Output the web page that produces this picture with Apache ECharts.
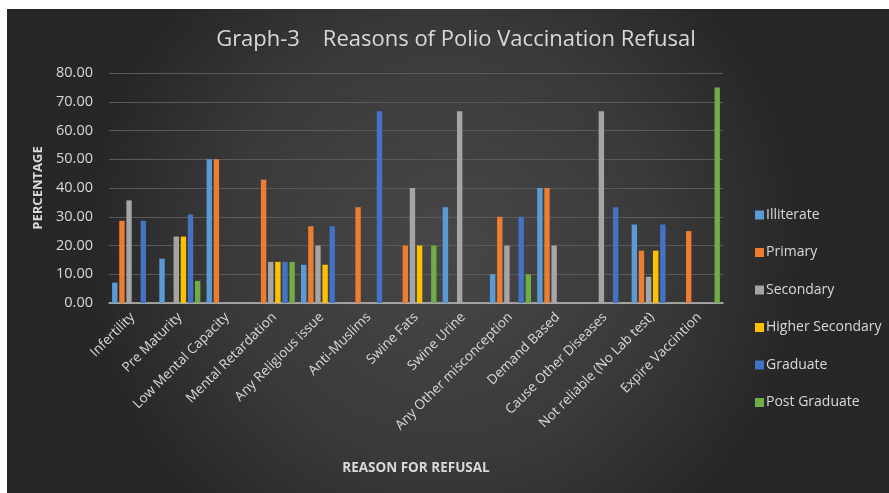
<!DOCTYPE html>
<html>
<head>
<meta charset="utf-8">
<script src="https://cdn.jsdelivr.net/npm/echarts@6/dist/echarts.min.js"></script>
<style>html,body{margin:0;padding:0;background:#2b2b2b;overflow:hidden}#c{width:889px;height:493px}</style>
</head>
<body>
<div id="c"></div>
<script>
const categories = ["Infertility","Pre Maturity","Low Mental Capacity","Mental Retardation","Any Religious issue","Anti-Muslims","Swine Fats","Swine Urine","Any Other misconception","Demand Based","Cause Other Diseases","Not reliable (No Lab test)","Expire Vaccintion"];
const illiterate      = [7.1, 15.4, 50.0, 0, 13.3, 0, 0, 33.3, 10.0, 40.0, 0, 27.3, 0];
const primary         = [28.6, 0, 50.0, 42.9, 26.7, 33.3, 20.0, 0, 30.0, 40.0, 0, 18.2, 25.0];
const secondary       = [35.7, 23.1, 0, 14.3, 20.0, 0, 40.0, 66.7, 20.0, 20.0, 66.7, 9.1, 0];
const higherSecondary = [0, 23.1, 0, 14.3, 13.3, 0, 20.0, 0, 0, 0, 0, 18.2, 0];
const graduate        = [28.6, 30.8, 0, 14.3, 26.7, 66.7, 0, 0, 30.0, 0, 33.3, 27.3, 0];
const postGraduate    = [0, 7.7, 0, 14.3, 0, 0, 20.0, 0, 10.0, 0, 0, 0, 75.0];
const yTicks = [0, 10, 20, 30, 40, 50, 60, 70, 80];

const seriesDefs = [
  ["Illiterate", illiterate, "#5B9BD5"],
  ["Primary", primary, "#ED7D31"],
  ["Secondary", secondary, "#A5A5A5"],
  ["Higher Secondary", higherSecondary, "#FFC000"],
  ["Graduate", graduate, "#4472C4"],
  ["Post Graduate", postGraduate, "#70AD47"]
];
const font = "'Open Sans', Lato, sans-serif";
const chart = echarts.init(document.getElementById('c'));
chart.setOption({
  backgroundColor: new echarts.graphic.RadialGradient(0.5, 0.5, 0.72, [
    {offset: 0, color: '#474747'},
    {offset: 0.6, color: '#3a3a3a'},
    {offset: 1, color: '#272727'}
  ]),
  animation: false,
  textStyle: {fontFamily: font},
  graphic: [
    {type: 'rect', silent: true, z: 100, shape: {x: 0, y: 0, width: 889, height: 9}, style: {fill: '#ffffff'}},
    {type: 'rect', silent: true, z: 100, shape: {x: 0, y: 0, width: 7, height: 493}, style: {fill: '#ffffff'}}
  ],
  title: {
    text: 'Graph-3    Reasons of Polio Vaccination Refusal',
    left: 451, top: 24, textAlign: 'center',
    textStyle: {color: '#d9d9d9', fontSize: 22, fontWeight: 'normal', fontFamily: font}
  },
  legend: {
    orient: 'vertical', left: 750, top: 203,
    itemWidth: 9, itemHeight: 9, itemGap: 23.5,
    icon: 'rect',
    textStyle: {color: '#d9d9d9', fontSize: 14, fontFamily: font, padding: [0,0,0,-3]},
    data: seriesDefs.map(d => d[0])
  },
  grid: {left: 109, right: 166, top: 73, bottom: 190, containLabel: false},
  xAxis: {
    type: 'category', data: categories,
    name: 'REASON FOR REFUSAL', nameLocation: 'middle', nameGap: 158,
    nameTextStyle: {color: '#d9d9d9', fontSize: 13.5, fontWeight: 'bold', fontFamily: font},
    axisLine: {lineStyle: {color: '#bfbfbf', width: 1.5}},
    axisTick: {show: false},
    axisLabel: {rotate: 45, color: '#d9d9d9', fontSize: 13.5, interval: 0, margin: 12, fontFamily: font}
  },
  yAxis: {
    type: 'value', min: 0, max: 80, interval: 10,
    name: 'PERCENTAGE', nameLocation: 'middle', nameGap: 58, nameRotate: 90,
    nameTextStyle: {color: '#d9d9d9', fontSize: 13, fontWeight: 'bold', fontFamily: font},
    axisLine: {show: false}, axisTick: {show: false},
    axisLabel: {color: '#d9d9d9', fontSize: 14.5, margin: 16, fontFamily: font, formatter: v => yTicks.includes(v) ? v.toFixed(2) : ''},
    splitLine: {lineStyle: {color: '#5a5a5a', width: 1}}
  },
  series: seriesDefs.map(d => ({
    name: d[0], type: 'bar', data: d[1],
    barWidth: 5.4, barGap: '32%',
    itemStyle: {color: d[2]}
  }))
});
</script>
</body>
</html>
